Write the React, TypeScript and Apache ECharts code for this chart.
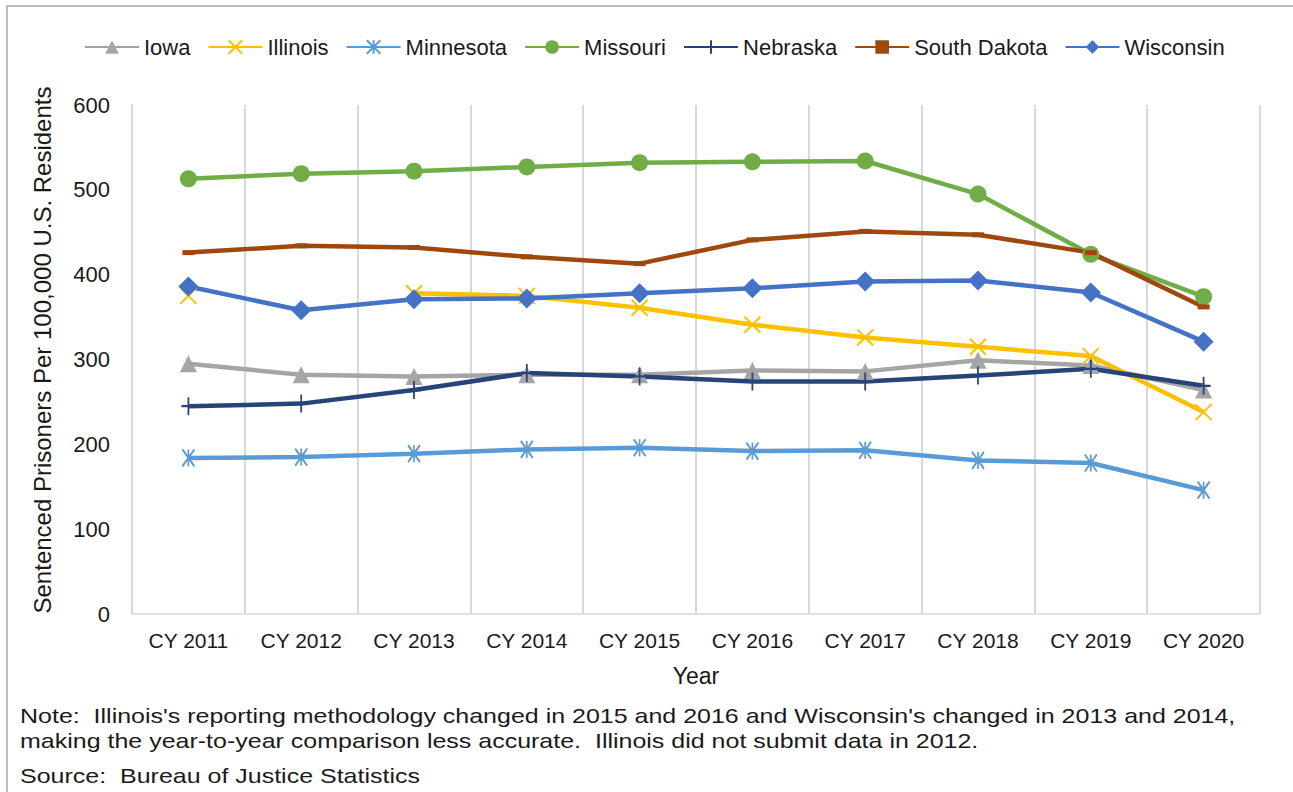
import React, { useEffect, useRef } from "react";
import * as echarts from "echarts";

const categories = ["CY 2011", "CY 2012", "CY 2013", "CY 2014", "CY 2015", "CY 2016", "CY 2017", "CY 2018", "CY 2019", "CY 2020"];

const iowa = [295, 282, 280, 282, 282, 287, 286, 299, 293, 264];
const illinois = [375, null, 378, 375, 361, 341, 326, 315, 304, 238];
const minnesota = [184, 185, 189, 194, 196, 192, 193, 181, 178, 146];
const missouri = [513, 519, 522, 527, 532, 533, 534, 495, 424, 374];
const nebraska = [245, 248, 264, 284, 280, 274, 274, 281, 289, 269];
const southDakota = [426, 434, 432, 421, 413, 441, 451, 447, 426, 362];
const wisconsin = [386, 358, 371, 372, 378, 384, 392, 393, 379, 321];

const yTicks = { min: 0, max: 600, interval: 100 };

const yTitle = "Sentenced Prisoners Per 100,000 U.S. Residents";
const xTitle = "Year";
const noteLine1 = "Note:  Illinois's reporting methodology changed in 2015 and 2016 and Wisconsin's changed in 2013 and 2014,";
const noteLine2 = "making the year-to-year comparison less accurate.  Illinois did not submit data in 2012.";
const sourceLine = "Source:  Bureau of Justice Statistics";

const FONT = "Liberation Sans, Arial, sans-serif";
const INK = "#1a1a1a";

export default function App() {
  const ref = useRef<HTMLDivElement>(null);
  useEffect(() => {
    document.body.style.margin = "0";
    const chart = echarts.init(ref.current!, null, { renderer: "svg" });
    const mk = (name: string, data: any[], color: string, symbol: string, symbolSize: any, stroke = false) => ({
      name,
      type: "line",
      data,
      symbol,
      symbolSize,
      connectNulls: false,
      lineStyle: { color, width: 4.5 },
      itemStyle: stroke
        ? { color, borderColor: color, borderWidth: 2 }
        : { color, borderWidth: 0 },
      emphasis: { disabled: true },
    });
    const noteStyle = { fontSize: 21, fill: INK, fontFamily: FONT, verticalAlign: "middle" };
    chart.setOption({
      animation: false,
      textStyle: { fontFamily: FONT },
      legend: {
        top: 31,
        left: 79,
        itemWidth: 54,
        itemHeight: 17,
        itemGap: 17,
        textStyle: { fontSize: 22, color: INK, fontFamily: FONT },
        data: ["Iowa", "Illinois", "Minnesota", "Missouri", "Nebraska", "South Dakota", "Wisconsin"],
      },
      grid: { left: 132, top: 105, right: 33, bottom: 178, containLabel: false },
      xAxis: {
        type: "category",
        data: categories,
        boundaryGap: true,
        name: xTitle,
        nameLocation: "middle",
        nameGap: 50,
        nameTextStyle: { fontSize: 23, color: INK, fontFamily: FONT },
        axisLine: { show: true, lineStyle: { color: "#d9d9d9", width: 1.5 } },
        axisTick: { show: false },
        axisLabel: { fontSize: 21, color: INK, margin: 16, interval: 0, fontFamily: FONT },
        splitLine: { show: true, interval: 0, lineStyle: { color: "#d9d9d9", width: 2 } },
      },
      yAxis: {
        type: "value",
        min: yTicks.min,
        max: yTicks.max,
        interval: yTicks.interval,
        axisLine: { show: true, lineStyle: { color: "#d9d9d9", width: 2 } },
        axisTick: { show: false },
        axisLabel: { fontSize: 22, color: INK, margin: 22, fontFamily: FONT },
        splitLine: { show: false },
      },
      series: [
        mk("Iowa", iowa, "#A5A5A5", "triangle", 17),
        mk("Illinois", illinois, "#FFC000", "path://M0,0L12,12M12,0L0,12", 16, true),
        mk("Minnesota", minnesota, "#5B9BD5", "path://M0,0L10,14M10,0L0,14M5,0L5,14", [12, 17], true),
        mk("Missouri", missouri, "#70AD47", "circle", 17),
        mk("Nebraska", nebraska, "#264478", "path://M7,0L7,18M0,9L14,9", [14, 18], true),
        mk("South Dakota", southDakota, "#9E480E", "rect", [12, 5]),
        mk("Wisconsin", wisconsin, "#4472C4", "diamond", 20),
      ],
      graphic: [
        {
          type: "rect",
          shape: { x: 7, y: 6, width: 1300, height: 800 },
          style: { fill: "none", stroke: "#a6a6a6", lineWidth: 1.5 },
          silent: true,
        },
        {
          type: "text",
          x: 42,
          y: 350,
          rotation: Math.PI / 2,
          style: { text: yTitle, fontSize: 24, fill: INK, fontFamily: FONT, align: "center", verticalAlign: "middle" },
        },
        { type: "text", x: 20, y: 716, scaleX: 1.19, style: { ...noteStyle, text: noteLine1 } },
        { type: "text", x: 20, y: 741, scaleX: 1.19, style: { ...noteStyle, text: noteLine2 } },
        { type: "text", x: 20, y: 776, scaleX: 1.19, style: { ...noteStyle, text: sourceLine } },
      ],
    });
    return () => chart.dispose();
  }, []);
  return <div ref={ref} style={{ position: "fixed", left: 0, top: 0, width: 1293, height: 792, background: "#fff" }} />;
}
